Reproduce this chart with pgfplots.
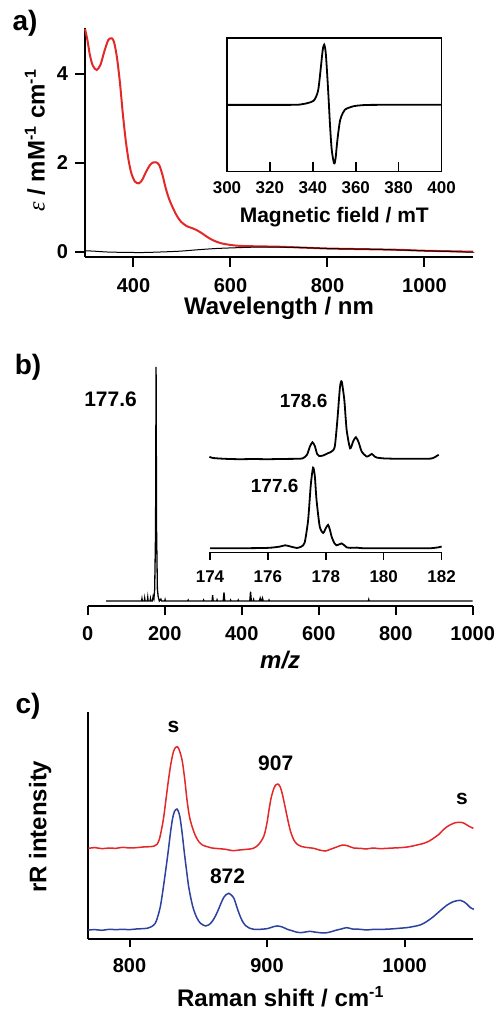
\documentclass[border=0pt]{standalone}
\usepackage{fontspec}
\setmainfont{Liberation Sans}
\newfontfamily\epsfont{Liberation Serif}
\usepackage{pgfplots}
\pgfplotsset{compat=1.18}
\definecolor{specred}{RGB}{228,40,40}
\definecolor{specblue}{RGB}{45,65,160}

\begin{document}
\begin{tikzpicture}
\useasboundingbox (0,0) rectangle (248.5pt,504.5pt);
\pgfplotsset{
  base/.style={
    scale only axis, clip=false,
    axis line style={line width=1pt},
    every tick/.style={line width=1pt, black},
    /pgf/number format/assume math mode=true,
    /pgf/number format/1000 sep={},
    tick label style={font=\fontsize{10}{12}\selectfont\bfseries},
    label style={font=\fontsize{12}{14}\selectfont\bfseries},
    tick align=outside, major tick length=5pt,
  },
  inset/.style={
    scale only axis, clip=false,
    axis line style={line width=0.8pt},
    every tick/.style={line width=0.8pt, black},
    /pgf/number format/assume math mode=true,
    /pgf/number format/1000 sep={},
    tick label style={font=\fontsize{8.5}{10}\selectfont\bfseries},
    label style={font=\fontsize{10.5}{12}\selectfont\bfseries},
  },
}

% ---------------- a) absorption ----------------
\begin{axis}[base, at={(42.5pt,376pt)}, anchor=south west,
  width=194pt, height=114.5pt,
  xmin=300, xmax=1100, ymin=-0.11, ymax=5.02,
  axis lines*=left,
  xtick={400,600,800,1000}, ytick={0,2,4},
  xticklabel style={yshift=-2pt},
  xlabel={Wavelength / nm},
  ylabel={{\epsfont\mdseries\itshape ε} / mM\textsuperscript{-1} cm\textsuperscript{-1}},
  xlabel style={at={(axis description cs:0.5,-0.223)}, anchor=center},
  ylabel style={at={(axis description cs:-0.129,0.51)}, anchor=center},
]
\addplot[specred, line width=1pt, smooth] coordinates {
(300,5.0) (305,4.75) (310,4.42) (316,4.18) (324,4.08) (332,4.2) (340,4.5) (348,4.75)
(355,4.79) (360,4.7) (366,4.35) (372,3.8) (378,3.1) (384,2.5) (390,2.05) (396,1.75)
(403,1.58) (411,1.54) (418,1.62) (426,1.8) (434,1.95) (441,2.01) (447,2.01) (453,1.95)
(460,1.72) (466,1.45) (473,1.2) (480,1.02) (489,0.82) (498,0.68) (510,0.58) (520,0.54)
(529,0.5) (540,0.43) (552,0.34) (563,0.27) (580,0.2) (600,0.16) (618,0.14) (650,0.13)
(700,0.12) (750,0.1) (800,0.08) (850,0.07) (905,0.06) (950,0.05) (1000,0.03) (1050,0.02)
(1090,0.01) (1100,0.01)
};
\addplot[black, line width=0.5pt, smooth] coordinates {
(300,0.03) (320,0.02) (350,0.0) (413,-0.01) (450,0.0) (495,0.02) (530,0.05) (570,0.08)
(618,0.1) (650,0.11) (700,0.11) (750,0.1) (800,0.08) (850,0.07) (905,0.06) (1000,0.03)
(1090,0.0) (1100,0.0)
};
\end{axis}
\node[font=\fontsize{14}{16}\selectfont\bfseries] at (12.5pt,493pt) {a)};

% inset: EPR
\begin{axis}[inset, at={(113.5pt,418.65pt)}, anchor=south west,
  width=107.3pt, height=66.85pt,
  xmin=300, xmax=400, ymin=-1, ymax=1,
  xtick={300,320,...,400}, ytick=\empty, xtick pos=left,
  tick align=inside, major tick length=5pt,
  xticklabel style={yshift=-1.5pt},
  xlabel={Magnetic field / mT},
  xlabel style={at={(axis description cs:0.5,-0.339)}, anchor=center},
]
\addplot[black, line width=0.9pt, smooth] coordinates {
(300,0) (330,0) (335,0.01) (338,0.03) (340.3,0.06) (341.5,0.12) (342.6,0.24) (343.7,0.55)
(344.6,0.82) (345.3,0.9) (346,0.78) (346.7,0.45) (347.3,0.12) (348,-0.3) (348.8,-0.67)
(349.9,-0.875) (350.6,-0.8) (351.2,-0.6) (352,-0.38) (352.8,-0.22) (354,-0.12) (355,-0.07)
(357,-0.04) (359,-0.02) (363,-0.005) (370,0) (400,0)
};
\end{axis}

% ---------------- b) mass spectrum ----------------
\begin{axis}[base, at={(43.85pt,201.5pt)}, anchor=south west,
  width=192.5pt, height=119.5pt,
  xmin=0, xmax=1000, ymin=-0.0214, ymax=1.0,
  axis x line*=bottom, axis y line=none,
  xtick={0,200,...,1000}, major tick length=4.5pt,
  xticklabel style={yshift=-2pt},
  xlabel={\itshape m/z},
  xlabel style={at={(axis description cs:0.5,-0.226)}, anchor=center},
]
\addplot[black, line width=0.65pt] coordinates {
(48,0) (140,0) (141,0.01) (142,0) (147,0) (148,0.012) (149,0) (155,0) (156,0.015) (157,0)
(162,0) (163,0.01) (164,0) (168,0) (170,0.02) (172,0.01) (174,0.05) (176.3,0.3) (177.6,1.0)
(178.9,0.3) (181,0.05) (183,0.02) (186,0) (190,0.008) (192,0) (200,0) (201,0.006) (202,0)
(260,0) (261,0.004) (262,0) (300,0) (301,0.004) (302,0) (323,0) (324.5,0.025) (326,0)
(335,0) (336,0.005) (337,0) (352,0) (354,0.037) (356,0) (370,0) (371,0.004) (372,0)
(390,0) (391,0.004) (392,0) (421,0) (423,0.04) (425,0) (430,0) (431,0.006) (432,0)
(446,0) (448,0.012) (450,0) (452,0) (454,0.012) (456,0) (470,0) (471,0.004) (472,0)
(729,0) (730,0.006) (731,0) (1000,0)
};
\node[anchor=east, font=\fontsize{10.5}{12}\selectfont\bfseries] at (axis cs:146,0.86) {177.6};
\end{axis}
\node[font=\fontsize{14}{16}\selectfont\bfseries] at (14pt,321pt) {b)};

% inset: isotope patterns
\begin{axis}[inset, at={(105pt,228.35pt)}, anchor=south west,
  width=115.8pt, height=86.65pt,
  xmin=174, xmax=182, ymin=-0.05, ymax=2.1,
  axis x line*=bottom, axis y line=none,
  xtick={174,176,...,182}, tick align=outside, major tick length=3.8pt,
  xticklabel style={yshift=-2pt},
]
\addplot[black, line width=0.9pt, smooth, tension=0.4] coordinates {
(174,0) (175,0) (176,0.005) (176.4,0.02) (176.6,0.037) (176.8,0.02) (177.0,0.004)
(177.15,0.02) (177.27,0.07) (177.39,0.35) (177.48,0.78) (177.56,1.0) (177.62,0.9)
(177.68,0.6) (177.79,0.27) (177.91,0.19) (178.0,0.25) (178.08,0.29) (178.15,0.22)
(178.2,0.145) (178.3,0.06) (178.37,0.037) (178.47,0.05) (178.55,0.06) (178.63,0.04)
(178.72,0.012) (178.85,0.005) (179.07,0.008) (179.3,0) (180,0) (181,0) (181.6,0)
(181.9,0.012) (182,0.022)
};
\addplot[black, line width=0.9pt, smooth, tension=0.4] coordinates {
(173.98,1.135) (174.1,1.12) (174.5,1.11) (175,1.105) (175.5,1.107) (176,1.105)
(176.5,1.108) (177,1.11) (177.2,1.115) (177.35,1.16) (177.45,1.26) (177.54,1.315)
(177.62,1.27) (177.7,1.17) (177.77,1.146) (177.9,1.15) (178.08,1.18) (178.2,1.2)
(178.31,1.26) (178.4,1.59) (178.49,2.0) (178.55,2.067) (178.64,1.84) (178.72,1.47)
(178.84,1.24) (178.95,1.33) (179.04,1.377) (179.13,1.32) (179.24,1.2) (179.41,1.138)
(179.5,1.15) (179.59,1.17) (179.68,1.14) (179.76,1.125) (180,1.115) (180.5,1.11)
(181,1.11) (181.5,1.11) (181.7,1.118) (181.9,1.16)
};
\node[anchor=east, font=\fontsize{9.5}{11}\selectfont\bfseries] at (axis cs:178.3,1.83) {178.6};
\node[anchor=east, font=\fontsize{9.5}{11}\selectfont\bfseries] at (axis cs:177.3,0.777) {177.6};
\end{axis}

% ---------------- c) resonance Raman ----------------
\begin{axis}[base, at={(44.15pt,34.85pt)}, anchor=south west,
  width=192.5pt, height=113.8pt,
  xmin=770, xmax=1050, ymin=0, ymax=6.83,
  axis lines*=left,
  xtick={800,900,1000}, ytick=\empty, major tick length=4pt,
  xticklabel style={yshift=-2pt},
  xlabel={Raman shift / cm\textsuperscript{-1}},
  ylabel={rR intensity},
  xlabel style={at={(axis description cs:0.5,-0.252)}, anchor=center},
  ylabel style={at={(axis description cs:-0.125,0.495)}, anchor=center},
]
\addplot[specred, line width=0.75pt, smooth] coordinates {
(770,2.73) (775,2.75) (780,2.72) (785,2.74) (790,2.73) (795,2.76) (800,2.74) (805,2.75)
(810,2.77) (815,2.78) (818,2.8) (820,2.85) (822,3.05) (824.6,3.6) (826.5,4.2) (828.3,4.78)
(830,5.25) (831.9,5.63) (833.5,5.76) (834.6,5.78) (836,5.7) (838.2,5.38) (840,4.85)
(841.8,4.18) (843.5,3.7) (845.5,3.38) (848,3.1) (850.4,2.93) (853,2.83) (856.4,2.78)
(860,2.74) (865,2.72) (870,2.7) (875,2.66) (880,2.68) (885,2.7) (890,2.73) (894,2.85)
(897.7,3.1) (900,3.5) (901.3,3.85) (903,4.25) (905,4.53) (906.5,4.64) (907.9,4.66)
(909.5,4.58) (911,4.38) (913,4.0) (914.6,3.68) (917,3.25) (919.5,2.98) (922,2.85)
(925.5,2.78) (930,2.75) (934,2.73) (938,2.68) (942.5,2.65) (946,2.7) (950,2.76) (955,2.83)
(959,2.8) (963,2.74) (968,2.73) (972,2.71) (977,2.74) (982,2.72) (987,2.73) (992,2.74)
(997,2.75) (1002,2.77) (1006,2.8) (1010,2.84) (1014,2.88) (1018,2.95) (1021,3.03)
(1025,3.15) (1028,3.28) (1031,3.38) (1034,3.45) (1037,3.5) (1039,3.51) (1041,3.51)
(1043,3.49) (1045,3.44) (1047,3.39) (1050,3.33)
};
\addplot[specblue, line width=0.75pt, smooth] coordinates {
(770,0.28) (775,0.29) (780,0.27) (785,0.3) (790,0.29) (795,0.3) (800,0.29) (805,0.31)
(810,0.32) (812.7,0.33) (816,0.38) (818.7,0.48) (820.5,0.68) (822.4,0.98) (824.2,1.45)
(826,1.98) (828,2.6) (829.7,3.18) (831.2,3.6) (832.6,3.83) (834.5,3.91) (836,3.78)
(837,3.58) (838.5,3.1) (839.9,2.58) (841.5,2.05) (843,1.58) (845,1.15) (846.7,0.88)
(849,0.64) (851.6,0.48) (855.2,0.4) (857.5,0.43) (860,0.53) (862.5,0.7) (865,0.93)
(867,1.13) (868.6,1.26) (870.5,1.35) (872.3,1.38) (874,1.33) (875.9,1.23) (877.8,1.0)
(879.6,0.78) (882,0.55) (884.4,0.41) (887,0.34) (890.5,0.3) (895,0.3) (900.2,0.32)
(904,0.37) (907.5,0.4) (911,0.37) (914.8,0.3) (918,0.26) (921,0.22) (924.5,0.2) (928,0.22)
(931,0.24) (934.2,0.22) (938,0.2) (942,0.19) (946,0.22) (950,0.27) (954,0.31) (958,0.35)
(962,0.31) (967.8,0.3) (972,0.28) (978,0.3) (984.7,0.3) (990,0.31) (996,0.33)
(1001.7,0.35) (1006,0.38) (1011.4,0.43) (1016,0.53) (1021,0.68) (1026,0.86) (1031,1.03)
(1035,1.12) (1038.2,1.16) (1040.5,1.17) (1043,1.13) (1045.5,1.05) (1047.9,0.95)
(1050.4,0.9)
};
\node[font=\fontsize{10.5}{12}\selectfont\bfseries] at (axis cs:832,6.38) {s};
\node[font=\fontsize{10.5}{12}\selectfont\bfseries] at (axis cs:906.3,5.28) {907};
\node[font=\fontsize{10.5}{12}\selectfont\bfseries] at (axis cs:1041.8,4.2) {s};
\node[font=\fontsize{10.5}{12}\selectfont\bfseries] at (axis cs:871.3,1.88) {872};
\end{axis}
\node[font=\fontsize{14}{16}\selectfont\bfseries] at (14pt,151.15pt) {c)};
\end{tikzpicture}
\end{document}
